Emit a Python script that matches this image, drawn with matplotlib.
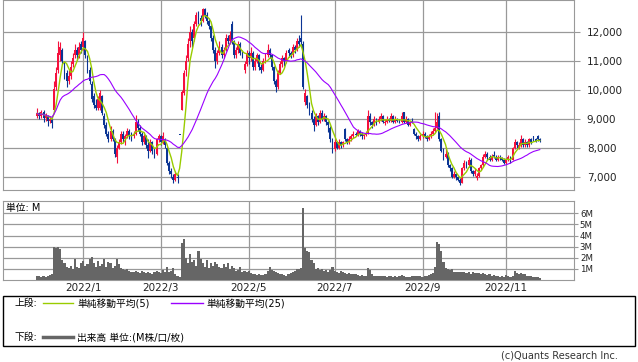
import numpy as np
import pandas as pd
import matplotlib
matplotlib.use('Agg')
import matplotlib.pyplot as plt
from matplotlib.patches import Rectangle
from matplotlib.lines import Line2D

plt.rcParams['font.family'] = ['DejaVu Sans', 'Noto Sans CJK JP']

#trading days 2021/12/1 - 2022/11/25 (TSE holidays removed)
holidays = ['2021-12-31', '2022-01-03', '2022-01-10', '2022-02-11', '2022-02-23', '2022-03-21',
            '2022-04-29', '2022-05-03', '2022-05-04', '2022-05-05', '2022-07-18', '2022-08-11',
            '2022-09-19', '2022-09-23', '2022-10-10', '2022-11-03', '2022-11-23']
dates = pd.bdate_range('2021-12-01', '2022-11-25')
dates = dates[~dates.isin(pd.to_datetime(holidays))]

opens = [9100, 9200, 9100, 9250, 9050, 9100, 8950, 9000, 9300, 10100,
         10700, 11200, 11400, 10900, 10600, 10300, 10500, 10900, 11200, 11400,
         11200, 11600, 11500, 11700, 11100, 10700, 10200, 9800, 9500, 9400,
         9400, 9800, 9100, 8800, 8500, 8300, 8600, 8300, 7700, 8000,
         8200, 8500, 8300, 8400, 8600, 8450, 8400, 8500, 8900, 8700,
         8500, 8200, 8400, 8100, 7900, 8200, 7900, 7800, 8300, 8400,
         8200, 8300, 8000, 7500, 7200, 7000, 6900, 7000, 8450, 9300,
         9900, 10700, 11100, 11700, 12000, 11800, 12300, 12600, 12500, 12400,
         12800, 12600, 12400, 12200, 11800, 11400, 11000, 11300, 11500, 11200,
         11400, 11800, 11700, 12300, 11700, 11200, 11400, 11600, 11300, 10700,
         10900, 11300, 11100, 11300, 10800, 11000, 11200, 10800, 10700, 11000,
         11200, 11400, 11200, 10800, 10300, 10100, 10600, 10900, 11100, 11000,
         11400, 11300, 11200, 11500, 11400, 11700, 11800, 11600, 9600, 9800,
         9500, 9200, 9000, 8800, 9100, 8900, 9200, 9000, 9100, 8900,
         8700, 8300, 7950, 8200, 8000, 8200, 8100, 8650, 8300, 8200,
         8300, 8400, 8500, 8450, 8600, 8500, 8400, 8450, 8500, 9100,
         8900, 8800, 9000, 8900, 9000, 9100, 8850, 8900, 9000, 8950,
         9100, 8900, 9000, 8950, 8900, 9250, 8900, 9000, 8800, 8950,
         8650, 8500, 8400, 8300, 8400, 8500, 8400, 8300, 8400, 8500,
         8600, 8700, 9100, 8300, 7900, 7700, 7800, 7400, 7300, 7000,
         7100, 7000, 6900, 6800, 7300, 7500, 7400, 7600, 7200, 7100,
         6950, 7050, 7300, 7400, 7700, 7800, 7700, 7600, 7750, 7700,
         7600, 7700, 7650, 7600, 7500, 7600, 7700, 7600, 8000, 8200,
         8000, 8100, 8300, 8100, 8200, 8100, 8300, 8400, 8300, 8400, 8300]
highs = [9400, 9250, 9300, 9300, 9200, 9150, 9100, 9050, 10300, 10800,
         11700, 11650, 11450, 11000, 10700, 10700, 11000, 11300, 11600, 11500,
         11650, 11700, 12000, 11750, 11200, 10800, 10300, 9900, 9700, 9800,
         10000, 9850, 9200, 8900, 8600, 8750, 8650, 8350, 8100, 8300,
         8600, 8600, 8500, 8700, 8650, 8550, 8600, 9150, 9000, 8800,
         8550, 8500, 8450, 8300, 8300, 8250, 8000, 8350, 8500, 8450,
         8550, 8350, 8050, 7550, 7300, 7100, 7200, 7100, 8450, 10000,
         10700, 11200, 11800, 12200, 12100, 12400, 12700, 12750, 12600, 12850,
         12850, 12700, 12500, 12250, 11900, 11500, 11400, 11700, 11600, 11500,
         11950, 11900, 12050, 12400, 11750, 11500, 11700, 11650, 11400, 11000,
         11400, 11350, 11500, 11350, 11100, 11300, 11250, 10900, 11100, 11300,
         11600, 11450, 11250, 10850, 10400, 10700, 11000, 11200, 11150, 11400,
         11450, 11350, 11600, 11550, 11800, 11900, 12590, 11700, 10050, 9850,
         9600, 9300, 9100, 9200, 9150, 9300, 9300, 9200, 9150, 8950,
         8750, 8350, 8300, 8250, 8300, 8250, 8250, 8690, 8350, 8400,
         8500, 8600, 8550, 8650, 8620, 8550, 8500, 8600, 9310, 9200,
         8950, 9100, 9050, 9100, 9200, 9150, 9000, 9100, 9050, 9200,
         9150, 9100, 9050, 9000, 9240, 9250, 9100, 9050, 8950, 9050,
         8700, 8550, 8450, 8500, 8600, 8550, 8450, 8500, 8600, 8700,
         9240, 9200, 9240, 8350, 8000, 8050, 7850, 7450, 7350, 7200,
         7150, 7050, 6950, 7350, 7600, 7550, 7700, 7650, 7250, 7300,
         7150, 7350, 7450, 7800, 7900, 7850, 7750, 7800, 7900, 7750,
         7750, 7750, 7700, 7650, 7650, 7750, 7720, 8050, 8310, 8250,
         8200, 8450, 8350, 8300, 8250, 8350, 8350, 8420, 8350, 8450, 8350]
lows = [9050, 9000, 9050, 8900, 8950, 8750, 8850, 8700, 9250, 10000,
        10600, 11000, 10900, 10400, 10100, 10200, 10400, 10800, 11100, 11050,
        11100, 11300, 11400, 11100, 10600, 10200, 9600, 9400, 9300, 9300,
        9300, 9150, 8700, 8400, 8200, 8250, 8250, 7700, 7480, 7950,
        8150, 8200, 8100, 8350, 8300, 8250, 8350, 8450, 8600, 8400,
        8100, 8150, 8000, 7650, 7850, 7800, 7650, 7750, 8200, 8100,
        8150, 8000, 7400, 7100, 6950, 6800, 6850, 6790, 8450, 9300,
        9850, 10500, 11000, 11500, 11500, 11700, 12200, 12300, 12200, 12350,
        12500, 12300, 12100, 11700, 11300, 10760, 10900, 11200, 11100, 11100,
        11350, 11600, 11600, 11600, 11100, 11100, 11300, 11200, 11100, 10600,
        10850, 10900, 11000, 10700, 10700, 10950, 10700, 10600, 10650, 10950,
        11150, 11100, 10700, 10200, 9930, 10050, 10550, 10800, 10850, 10950,
        11150, 11100, 11150, 11300, 11350, 11500, 11500, 10050, 9500, 9400,
        9150, 8900, 8600, 8750, 8800, 8850, 8950, 8950, 8800, 8550,
        8200, 7830, 7900, 7950, 7950, 8000, 8050, 8250, 8150, 8150,
        8250, 8350, 8400, 8400, 8400, 8300, 8300, 8400, 8480, 8800,
        8700, 8750, 8800, 8850, 8950, 8850, 8800, 8850, 8900, 8900,
        8850, 8850, 8900, 8850, 8880, 8850, 8850, 8750, 8750, 8850,
        8450, 8300, 8250, 8280, 8350, 8350, 8250, 8280, 8350, 8450,
        8550, 8650, 8250, 7850, 7600, 7650, 7350, 7200, 6950, 6950,
        6900, 6850, 6725, 6780, 7250, 7300, 7350, 7150, 7050, 7050,
        6900, 7000, 7250, 7350, 7650, 7600, 7550, 7550, 7650, 7550,
        7550, 7600, 7550, 7450, 7450, 7550, 7500, 7580, 7950, 8000,
        7950, 8050, 8050, 8050, 8050, 8050, 8150, 8250, 8200, 8250, 8200]
closes = [9200, 9100, 9250, 9050, 9100, 8950, 9000, 8850, 10050, 10600,
          11300, 11500, 11000, 10500, 10300, 10500, 10800, 11100, 11400, 11200,
          11500, 11400, 11800, 11200, 10800, 10300, 9700, 9500, 9400, 9700,
          9900, 9200, 8800, 8500, 8300, 8600, 8300, 7800, 8000, 8200,
          8500, 8300, 8400, 8600, 8400, 8400, 8500, 8900, 8700, 8500,
          8200, 8400, 8100, 7900, 8200, 7900, 7800, 8300, 8400, 8200,
          8400, 8100, 7500, 7200, 7100, 6900, 7100, 6950, 8450, 9950,
          10600, 11000, 11600, 12000, 11700, 12300, 12600, 12500, 12400, 12800,
          12600, 12400, 12200, 11800, 11400, 11000, 11300, 11500, 11200, 11400,
          11800, 11700, 11900, 11700, 11200, 11400, 11600, 11300, 11200, 10900,
          11300, 11100, 11300, 10800, 11000, 11200, 10800, 10700, 11000, 11200,
          11400, 11200, 10800, 10300, 10100, 10600, 10900, 11100, 11000, 11300,
          11300, 11200, 11500, 11400, 11700, 11600, 11650, 10100, 9900, 9500,
          9200, 9000, 8800, 9100, 8900, 9200, 9000, 9100, 8900, 8800,
          8300, 7950, 8200, 8000, 8200, 8100, 8200, 8300, 8200, 8300,
          8400, 8500, 8450, 8600, 8500, 8400, 8450, 8500, 9100, 8900,
          8800, 9000, 8900, 9000, 9100, 8900, 8900, 9000, 8950, 9100,
          8900, 9000, 8950, 8900, 9100, 8900, 9000, 8800, 8900, 8900,
          8500, 8400, 8300, 8400, 8500, 8400, 8300, 8400, 8500, 8600,
          8700, 8900, 8300, 7900, 7700, 7800, 7400, 7300, 7000, 7100,
          7000, 6900, 6800, 7300, 7500, 7400, 7600, 7200, 7100, 7200,
          7050, 7300, 7400, 7700, 7800, 7700, 7600, 7700, 7700, 7600,
          7700, 7650, 7600, 7500, 7600, 7700, 7600, 8000, 8200, 8100,
          8100, 8300, 8100, 8200, 8100, 8300, 8200, 8300, 8250, 8300, 8250]
#volume in M
volume = [0.4, 0.35, 0.3, 0.35, 0.3, 0.35, 0.45, 0.5, 2.95, 2.9,
          2.95, 2.8, 1.8, 1.5, 1.2, 1.1, 1.3, 1.0, 1.9, 1.2,
          1.1, 1.5, 1.7, 1.3, 1.4, 1.9, 2.1, 1.5, 1.2, 1.7,
          1.3, 1.4, 1.9, 1.2, 1.6, 1.5, 1.1, 1.3, 1.9, 1.4,
          1.1, 1.0, 0.9, 1.0, 0.8, 0.7, 0.7, 0.8, 0.7, 0.6,
          0.8, 0.7, 0.6, 0.7, 0.6, 0.5, 0.7, 0.8, 0.7, 0.6,
          0.9, 0.7, 1.2, 0.7, 0.8, 1.1, 0.5, 0.4, 0.3, 3.3,
          3.7, 2.0, 1.5, 2.3, 1.6, 1.8, 1.3, 2.6, 1.9, 1.5,
          1.2, 1.8, 1.1, 1.5, 1.3, 1.6, 1.4, 1.2, 1.1, 1.4,
          1.2, 1.5, 1.0, 1.3, 1.1, 0.8, 0.9, 1.2, 0.7, 0.8,
          0.7, 0.8, 0.6, 0.5, 0.5, 0.45, 0.5, 0.45, 0.45, 0.5,
          0.8, 1.2, 0.9, 0.8, 0.7, 0.6, 0.55, 0.5, 0.45, 0.4,
          0.5, 0.6, 0.7, 0.8, 1.0, 1.0, 1.1, 6.45, 2.85, 2.6,
          2.5, 1.8, 1.5, 1.0, 1.1, 0.9, 1.0, 0.8, 0.9, 0.7,
          0.9, 1.15, 0.8, 0.7, 0.65, 0.8, 0.7, 0.6, 0.55, 0.6,
          0.5, 0.55, 0.5, 0.45, 0.4, 0.45, 0.4, 0.4, 1.05, 0.9,
          0.5, 0.4, 0.35, 0.4, 0.35, 0.4, 0.35, 0.3, 0.4, 0.35,
          0.3, 0.35, 0.3, 0.4, 0.45, 0.35, 0.3, 0.25, 0.3, 0.35,
          0.4, 0.35, 0.4, 0.35, 0.3, 0.35, 0.4, 0.45, 0.5, 0.6,
          1.2, 3.4, 3.2, 2.6, 1.6, 1.1, 1.0, 0.9, 0.95, 0.7,
          0.7, 0.75, 0.7, 0.7, 0.7, 0.65, 0.7, 0.55, 0.7, 0.6,
          0.6, 0.65, 0.55, 0.6, 0.5, 0.45, 0.5, 0.4, 0.45, 0.35,
          0.35, 0.3, 0.35, 0.3, 0.45, 0.4, 0.3, 0.35, 0.8, 0.6,
          0.55, 0.65, 0.5, 0.55, 0.4, 0.35, 0.35, 0.3, 0.3, 0.25, 0.2]

tick_months = ['2022-01', '2022-03', '2022-05', '2022-07', '2022-09', '2022-11']
tick_labels = ['2022/1', '2022/3', '2022/5', '2022/7', '2022/9', '2022/11']
price_ticks = [7000, 8000, 9000, 10000, 11000, 12000]
vol_ticks = [1, 2, 3, 4, 5, 6]

o = np.array(opens); h = np.array(highs); l = np.array(lows); c = np.array(closes)
idx = np.arange(len(c))
col = np.where(c > o, '#f5103c', '#0b3594')
body_lo = np.minimum(o, c)
body_h = np.maximum(np.abs(c - o), 30)

ma5 = pd.Series(c).rolling(5, min_periods=1).mean()
ma25 = pd.Series(c).rolling(25, min_periods=1).mean()

#first trading day of each labelled month
pos = [int(np.argmax(dates >= pd.Timestamp(m + '-01'))) for m in tick_months]

gc = '#999999'
fig = plt.figure(figsize=(6.38, 3.62), dpi=100)

#price panel
ax = fig.add_axes([0.0052, 0.4743, 0.8950, 0.5257])
ax.vlines(idx, l, h, colors=col, lw=0.8, zorder=3)
ax.bar(idx, body_h, bottom=body_lo, width=0.9, color=col, linewidth=0, zorder=3)
ax.plot(idx, ma5, color='#99cc00', lw=1.0, zorder=4)
ax.plot(idx, ma25, color='#9a00ff', lw=0.8, zorder=4)
ax.set_xlim(-16.2, 256.5)
ax.set_ylim(6540, 13115)
ax.yaxis.tick_right()
ax.set_yticks(price_ticks)
ax.set_yticklabels([f'{v:,}' for v in price_ticks])
ax.tick_params(axis='y', length=4, color=gc, pad=5, labelsize=7.5, labelcolor='#222222')
ax.set_xticks(pos)
ax.set_xticklabels([])
ax.tick_params(axis='x', length=0)
ax.grid(color=gc, lw=0.9, zorder=0)
for s in ax.spines.values():
    s.set_color(gc)

#volume panel
ax2 = fig.add_axes([0.0052, 0.2265, 0.8950, 0.2182])
ax2.bar(idx, volume, width=1.0, color='#666666', linewidth=0, zorder=3)
ax2.set_xlim(-16.2, 256.5)
ax2.set_ylim(0, 7.1)
ax2.yaxis.tick_right()
ax2.set_yticks(vol_ticks)
ax2.set_yticklabels([f'{v}M' for v in vol_ticks])
ax2.tick_params(axis='y', length=3, color=gc, pad=1, labelsize=6.2, labelcolor='#222222')
ax2.set_xticks(pos)
ax2.set_xticklabels(tick_labels)
ax2.tick_params(axis='x', length=0, pad=2.5, labelsize=7.5, labelcolor='#222222')
ax2.grid(color=gc, lw=0.9, zorder=0)
for s in ax2.spines.values():
    s.set_color(gc)
ax2.text(0.004, 0.97, '単位: M', transform=ax2.transAxes, va='top', ha='left', fontsize=7)

#legend box
fig.add_artist(Rectangle((0.0047, 0.0442), 0.9906, 0.138, transform=fig.transFigure,
                         fill=False, edgecolor='black', lw=1))
y1 = 1 - 303 / 362
y2 = 1 - 337 / 362
fig.text(0.022, y1, '上段:', fontsize=7, va='center')
fig.add_artist(Line2D([0.067, 0.114], [y1, y1], transform=fig.transFigure, color='#99cc00', lw=1))
fig.text(0.121, y1, '単純移動平均(5)', fontsize=7, va='center')
fig.add_artist(Line2D([0.268, 0.318], [y1, y1], transform=fig.transFigure, color='#9a00ff', lw=1))
fig.text(0.323, y1, '単純移動平均(25)', fontsize=7, va='center')
fig.text(0.022, y2, '下段:', fontsize=7, va='center')
fig.add_artist(Line2D([0.067, 0.114], [y2, y2], transform=fig.transFigure, color='#666666', lw=2.5))
fig.text(0.121, y2, '出来高 単位:(M株/口/枚)', fontsize=7, va='center')
fig.text(0.968, 1 - 356 / 362, '(c)Quants Research Inc.', fontsize=7, va='center', ha='right', color='#333333')

plt.savefig('out.png', dpi=100)
